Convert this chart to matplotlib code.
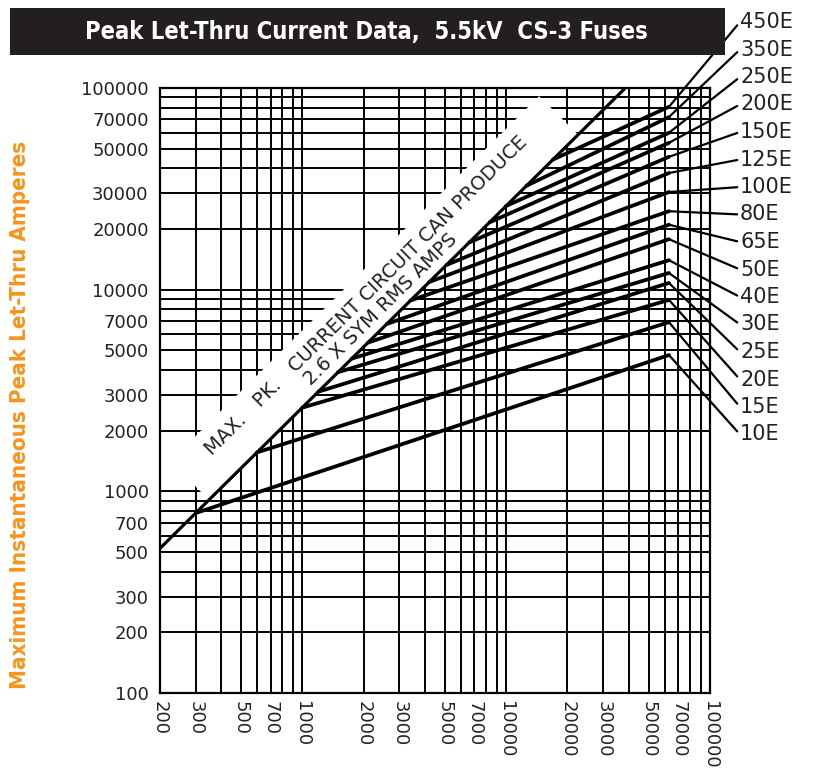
import matplotlib as mpl
mpl.use('Agg')
import matplotlib.pyplot as plt
from matplotlib.ticker import FixedLocator, NullFormatter
import numpy as np

# fuse ratings, top label first
fuse_names = ['450E', '350E', '250E', '200E', '150E', '125E', '100E', '80E',
              '65E', '50E', '40E', '30E', '25E', '20E', '15E', '10E']
# sym rms amps where each curve leaves the max line
start_rms = [17000, 12600, 10000, 8300, 6600, 5100, 4200, 3400,
             2600, 2100, 1750, 1500, 1200, 1000, 600, 300]
# peak let-thru amps at the end of the curve (63 kA rms)
end_peak = [80700, 71800, 60000, 53500, 45600, 37900, 30500, 24500,
            21000, 17800, 14000, 12100, 10800, 8900, 6900, 4740]
end_rms = 63000

max_factor = 2.6   # max peak = 2.6 x sym rms
x_ticks = [200, 300, 500, 700, 1000, 2000, 3000, 5000, 7000, 10000,
           20000, 30000, 50000, 70000, 100000]
y_ticks = [100, 200, 300, 500, 700, 1000, 2000, 3000, 5000, 7000, 10000,
           20000, 30000, 50000, 70000, 100000]

W, H = 815, 775
fig = plt.figure(figsize=(W / 100, H / 100), dpi=100)
ax = fig.add_axes([0.196, 0.1058, 0.675, 0.7806])
ax.set_xscale('log')
ax.set_yscale('log')
ax.set_xlim(200, 100000)
ax.set_ylim(100, 100000)

# full log grid, every line drawn heavy
grid_x = [m * 10**e for e in range(2, 6) for m in range(1, 10)]
grid_y = grid_x
ax.xaxis.set_major_locator(FixedLocator(x_ticks))
ax.yaxis.set_major_locator(FixedLocator(y_ticks))
ax.xaxis.set_minor_locator(FixedLocator(grid_x))
ax.yaxis.set_minor_locator(FixedLocator(grid_y))
ax.xaxis.set_minor_formatter(NullFormatter())
ax.yaxis.set_minor_formatter(NullFormatter())
ax.set_xticklabels([str(v) for v in x_ticks], rotation=-90, fontsize=13, color='#222222')
ax.set_yticklabels([str(v) for v in y_ticks], fontsize=13, color='#222222')
ax.tick_params(which='both', length=0)
ax.tick_params(axis='y', pad=8)
ax.tick_params(axis='x', pad=6)
ax.grid(True, which='both', color='black', lw=1.4, zorder=0)
ax.set_axisbelow(True)
for s in ax.spines.values():
    s.set_linewidth(1.6)

# white band behind the max line text (log space, perpendicular caps)
lf = np.log10(max_factor)
d = 0.19
ua, ub = np.log10(350), np.log10(22500)
band_u = np.array([ua, ub, ub - d, ua - d])
band_v = np.array([ua + lf, ub + lf, ub + lf + d, ua + lf + d])
band = plt.Polygon(np.column_stack([10**band_u, 10**band_v]), closed=True,
                   facecolor='white', edgecolor='white', lw=0.5, zorder=1)
ax.add_patch(band)

# max peak line
mx = np.array([200, 100000 / max_factor])
ax.plot(mx, max_factor * mx, color='black', lw=2.3, zorder=3, solid_capstyle='butt')

# fuse curves
label_y0 = 22
label_dy = 27.5
for i, name in enumerate(fuse_names):
    xs = [start_rms[i], end_rms]
    ys = [max_factor * start_rms[i], end_peak[i]]
    ax.plot(xs, ys, color='black', lw=2.7, zorder=3, solid_capstyle='round')
    ypix = H - (label_y0 + label_dy * i)
    ax.annotate(name, xy=(end_rms, end_peak[i]), xycoords='data',
                xytext=(740, ypix), textcoords='figure pixels',
                ha='left', va='center', fontsize=15, color='#222222',
                annotation_clip=False,
                arrowprops=dict(arrowstyle='-', lw=1.6, color='black',
                                shrinkA=0, shrinkB=0, relpos=(0, 0.5)))

# text along the max line
ang = np.degrees(np.arctan((0.7806 * H / 3) / (0.675 * W / np.log10(500))))
fig.text(366 / W, 1 - 296 / H, 'MAX.   PK.   CURRENT CIRCUIT CAN PRODUCE',
         rotation=ang, rotation_mode='anchor', ha='center', va='center',
         fontsize=14, color='#222222', zorder=4)
fig.text(381 / W, 1 - 309 / H, '2.6 X SYM RMS AMPS',
         rotation=ang, rotation_mode='anchor', ha='center', va='center',
         fontsize=14, color='#222222', zorder=4)

# title bar
fig.patches.append(plt.Rectangle((10 / W, 1 - 55 / H), 715 / W, 47 / H,
                                 transform=fig.transFigure, facecolor='#231f20',
                                 edgecolor='none'))
fig.text(366 / W, 1 - 32 / H, 'Peak Let-Thru Current Data,  5.5kV  CS-3 Fuses',
         color='white', fontsize=17, fontweight='bold',
         family='DejaVu Sans', fontstretch='condensed',
         ha='center', va='center')

fig.text(20 / W, 1 - 415 / H, 'Maximum Instantaneous Peak Let-Thru Amperes',
         color='#f7941d', fontsize=16, fontweight='bold', rotation=90,
         family='DejaVu Sans', fontstretch='condensed',
         ha='center', va='center')

fig.savefig('out.png', dpi=100)
